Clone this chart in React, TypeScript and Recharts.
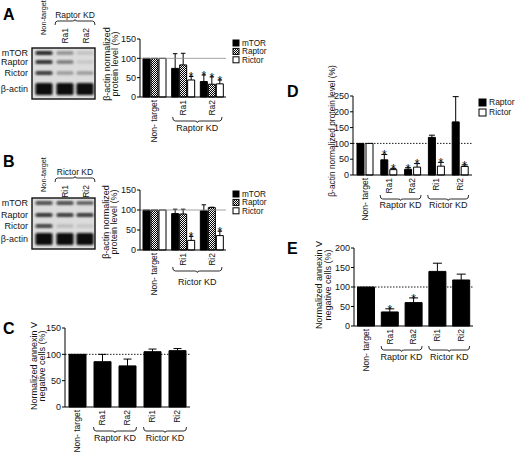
import React from "react";
import { BarChart, Bar, XAxis, YAxis, ReferenceLine, LabelList } from "recharts";

const FONT = "'Liberation Sans', Arial, Helvetica, sans-serif";
const INK = "#141414";

// ---- A: Raptor knockdown, beta-actin normalized protein level (%) ----
const aCategories = ["Non- target", "Ra1", "Ra2"];
const aMtor = [100, 74, 40];
const aMtorErr = [0, 38, 17];
const aRaptor = [100, 83, 33];
const aRaptorErr = [0, 30, 19];
const aRictor = [100, 44, 34];
const aRictorErr = [0, 9, 10];
const aMtorStar = [false, false, true];
const aRaptorStar = [false, false, true];
const aRictorStar = [false, true, true];

// ---- B: Rictor knockdown ----
const bCategories = ["Non- target", "Ri1", "Ri2"];
const bMtor = [100, 91, 98];
const bMtorErr = [0, 11, 15];
const bRaptor = [100, 90, 106];
const bRaptorErr = [0, 12, 1];
const bRictor = [100, 24, 36];
const bRictorErr = [0, 10, 11];
const bRictorStar = [false, true, true];

// ---- C, D, E share the five conditions ----
const cdeCategories = ["Non- target", "Ra1", "Ra2", "Ri1", "Ri2"];

const cAnnexin = [100, 86, 78, 105, 107];
const cAnnexinErr = [0, 14, 13, 5, 4];

const dRaptor = [100, 48, 18, 119, 168];
const dRaptorErr = [0, 17, 5, 7, 80];
const dRictor = [100, 17, 25, 28, 27];
const dRictorErr = [0, 4, 11, 12, 5];
const dRaptorStar = [false, true, true, false, false];
const dRictorStar = [false, true, true, true, true];

const eAnnexin = [100, 36, 60, 140, 118];
const eAnnexinErr = [0, 8, 12, 21, 15];
const eAnnexinStar = [false, true, true, false, false];

const abTicks = [0, 50, 100, 150];
const dTicks = [0, 50, 100, 150, 200, 250];
const eTicks = [0, 50, 100, 150, 200];

const aGroups = [{ label: "Raptor KD", from: 1, to: 2 }];
const bGroups = [{ label: "Rictor KD", from: 1, to: 2 }];
const cdeGroups = [
  { label: "Raptor KD", from: 1, to: 2 },
  { label: "Rictor KD", from: 3, to: 4 },
];

const proteinTitle = ["β-actin normalized", "protein level (%)"];
const annexinTitle = ["Normalized annexin V", "negative cells (%)"];
const dTitle = ["β-actin normalized protein level (%)"];

// western blot band intensities per lane (Non-target, KD1, KD2)
const blotRows = ["mTOR", "Raptor", "Rictor", "β-actin"];
const blotA = [
  [0.95, 0.35, 0.12],
  [0.9, 0.45, 0.1],
  [0.85, 0.3, 0.3],
  [1, 1, 1],
];
const blotB = [
  [0.75, 0.75, 0.6],
  [0.88, 0.85, 0.85],
  [0.8, 0.15, 0.1],
  [1, 1, 1],
];

type Series = { key: string; values: number[]; errs: number[]; stars?: boolean[]; fill: string };
type Group = { label: string; from: number; to: number };

function bracePath(x0: number, x1: number, y0: number, d: number) {
  const m = (x0 + x1) / 2;
  const r = 2.5;
  const n = d > 0 ? 1.5 : -1.5;
  return `M${x0},${y0} Q${x0},${y0 + d} ${x0 + r},${y0 + d} L${m - r},${y0 + d} Q${m},${y0 + d} ${m},${y0 + d + n} Q${m},${y0 + d} ${m + r},${y0 + d} L${x1 - r},${y0 + d} Q${x1},${y0 + d} ${x1},${y0}`;
}

const Star = (p: any) => {
  const vb = p.viewBox || p;
  if (!p.value) return null;
  return (
    <text x={vb.x + vb.width / 2} y={vb.y + 4.8} textAnchor="middle" fontSize={12} fill="#000">
      *
    </text>
  );
};

function Panel(props: {
  left: number;
  top: number;
  width: number;
  height: number;
  marginTop: number;
  yWidth: number;
  plotH: number;
  categories: string[];
  series: Series[];
  yMax: number;
  yTicks: number[];
  dotted: boolean;
  catGap: number;
  barGap: number;
  capW: number;
  groups: Group[];
  braceY: number;
  groupY: number;
}) {
  const p = props;
  const marginRight = 2;
  const band = (p.width - p.yWidth - marginRight) / p.categories.length;
  const xAxisH = p.height - p.marginTop - p.plotH;

  const data = p.categories.map((name, i) => {
    const row: any = { name };
    p.series.forEach((s) => {
      row[s.key] = s.values[i];
      row[s.key + "Err"] = s.errs[i];
      row[s.key + "Star"] = s.stars && s.stars[i] ? "*" : "";
    });
    return row;
  });

  const Tick = (t: any) => {
    const { x, y, payload } = t;
    const idx = p.categories.indexOf(payload.value);
    const g = p.groups.find((gr) => gr.from === idx);
    let extra = null;
    if (g) {
      const ext = band * 0.36;
      const x0 = -ext;
      const x1 = (g.to - g.from) * band + ext;
      extra = (
        <g>
          <path d={bracePath(x0, x1, p.braceY, 4)} fill="none" stroke={INK} strokeWidth={0.9} />
          <text x={(x0 + x1) / 2} y={p.groupY} textAnchor="middle" fontSize={9} fill={INK}>
            {g.label}
          </text>
        </g>
      );
    }
    return (
      <g transform={`translate(${x},${y})`}>
        <text transform="rotate(-90)" x={-3} y={0} dy="0.34em" textAnchor="end" fontSize={8.5} fill={INK}>
          {payload.value}
        </text>
        {extra}
      </g>
    );
  };

  const whisker = (s: any) => {
    const { x, y, width, height } = s;
    if (!height || height <= 0) return <g />;
    const cx = x + width / 2;
    return (
      <g stroke="#000" strokeWidth={1}>
        <line x1={cx} x2={cx} y1={y} y2={y + height} />
        <line x1={cx - p.capW / 2} x2={cx + p.capW / 2} y1={y} y2={y} />
      </g>
    );
  };

  return (
    <div style={{ position: "absolute", left: p.left, top: p.top }}>
      <BarChart
        width={p.width}
        height={p.height}
        data={data}
        margin={{ top: p.marginTop, right: marginRight, bottom: 0, left: 0 }}
        barCategoryGap={p.catGap}
        barGap={p.barGap}
      >
        <XAxis
          dataKey="name"
          interval={0}
          height={xAxisH}
          tickLine={false}
          tickSize={0}
          tickMargin={0}
          axisLine={{ stroke: "#000", strokeWidth: 1 }}
          tick={<Tick />}
        />
        <YAxis
          width={p.yWidth}
          domain={[0, p.yMax]}
          ticks={p.yTicks}
          tickSize={3}
          tickMargin={1}
          axisLine={{ stroke: "#000", strokeWidth: 1 }}
          tickLine={{ stroke: "#000" }}
          tick={{ fontSize: 9, fill: INK }}
        />
        <ReferenceLine
          y={100}
          stroke={p.dotted ? "#000" : "#8a8a8a"}
          strokeWidth={p.dotted ? 0.9 : 0.8}
          strokeDasharray={p.dotted ? "1.5 1.5" : undefined}
        />
        {p.series.flatMap((s) => [
          <Bar
            key={s.key}
            dataKey={s.key}
            stackId={s.key}
            fill={s.fill}
            stroke="#000"
            strokeWidth={1}
            isAnimationActive={false}
          />,
          <Bar key={s.key + "e"} dataKey={s.key + "Err"} stackId={s.key} shape={whisker} isAnimationActive={false}>
            <LabelList dataKey={s.key + "Star"} content={Star} />
          </Bar>,
        ])}
      </BarChart>
    </div>
  );
}

function AxisTitle({ lines, xs, cy, size }: { lines: string[]; xs: number[]; cy: number; size: number }) {
  return (
    <g>
      {lines.map((t, i) => (
        <text
          key={i}
          transform={`translate(${xs[i]},${cy}) rotate(-90)`}
          textAnchor="middle"
          dy="0.34em"
          fontSize={size}
          fill={INK}
        >
          {t}
        </text>
      ))}
    </g>
  );
}

function Blot({ x, y, w, h, bandYs, values }: { x: number; y: number; w: number; h: number; bandYs: number[]; values: number[][] }) {
  const lanes = [44, 65, 85];
  const laneW = 17;
  return (
    <g>
      <clipPath id={`clip${y}`}>
        <rect x={x} y={y} width={w} height={h} />
      </clipPath>
      <rect x={x} y={y} width={w} height={h} fill="#dcdcdc" />
      <g clipPath={`url(#clip${y})`}>
        <g filter="url(#blur)">
          {values.map((row, r) =>
            row.map((v, l) => {
              const bh = r === 3 ? 12 : 3.6;
              return (
                <rect
                  key={r + "-" + l}
                  x={lanes[l] - laneW / 2}
                  y={bandYs[r] - bh / 2}
                  width={laneW}
                  height={bh}
                  rx={1.5}
                  fill={`rgba(10,10,10,${v})`}
                />
              );
            })
          )}
        </g>
      </g>
      <rect x={x} y={y} width={w} height={h} fill="none" stroke="#111" strokeWidth={1.4} />
      {blotRows.map((name, r) => (
        <text key={name} x={28} y={bandYs[r]} dy="0.34em" textAnchor="end" fontSize={9} fill={INK}>
          {name}
        </text>
      ))}
    </g>
  );
}

function BlotHeader({ top, group, lanes }: { top: number; group: string; lanes: string[] }) {
  const laneXs = [43, 65, 86];
  return (
    <g fontSize={8.5} fill={INK}>
      <text transform={`translate(${laneXs[0]},${top + 35}) rotate(-90)`} dy="0.34em" textAnchor="start" fontSize={7.4}>
        Non-target
      </text>
      <text x={75} y={top + 18} textAnchor="middle">
        {group}
      </text>
      <path d={bracePath(55, 95, top + 25, -4)} fill="none" stroke={INK} strokeWidth={0.9} />
      {lanes.map((l, i) => (
        <text key={l} transform={`translate(${laneXs[i + 1]},${top + 28}) rotate(-90)`} dy="0.34em" textAnchor="end">
          {l}
        </text>
      ))}
    </g>
  );
}

function LegendBox({ x, y, size, gap, font, items }: { x: number; y: number; size: number; gap: number; font: number; items: Series[] }) {
  return (
    <g>
      {items.map((s, i) => (
        <g key={s.key}>
          <rect x={x} y={y + i * gap} width={size} height={size} fill={s.fill} stroke="#000" strokeWidth={1} />
          <text x={x + size + 3} y={y + i * gap + size / 2} dy="0.34em" fontSize={font} fill={INK}>
            {s.key}
          </text>
        </g>
      ))}
    </g>
  );
}

const aSeries: Series[] = [
  { key: "mTOR", values: aMtor, errs: aMtorErr, stars: aMtorStar, fill: "#000" },
  { key: "Raptor", values: aRaptor, errs: aRaptorErr, stars: aRaptorStar, fill: "url(#hatch)" },
  { key: "Rictor", values: aRictor, errs: aRictorErr, stars: aRictorStar, fill: "#fff" },
];
const bSeries: Series[] = [
  { key: "mTOR", values: bMtor, errs: bMtorErr, fill: "#000" },
  { key: "Raptor", values: bRaptor, errs: bRaptorErr, fill: "url(#hatch)" },
  { key: "Rictor", values: bRictor, errs: bRictorErr, stars: bRictorStar, fill: "#fff" },
];
const cSeries: Series[] = [{ key: "Annexin", values: cAnnexin, errs: cAnnexinErr, fill: "#000" }];
const dSeries: Series[] = [
  { key: "Raptor", values: dRaptor, errs: dRaptorErr, stars: dRaptorStar, fill: "#000" },
  { key: "Rictor", values: dRictor, errs: dRictorErr, stars: dRictorStar, fill: "#fff" },
];
const eSeries: Series[] = [{ key: "Annexin", values: eAnnexin, errs: eAnnexinErr, stars: eAnnexinStar, fill: "#000" }];

export default function App() {
  return (
    <div
      style={{
        position: "absolute",
        left: 0,
        top: 0,
        width: 520,
        height: 456,
        background: "#fff",
        fontFamily: FONT,
        overflow: "hidden",
      }}
    >
      <svg width={520} height={456} style={{ position: "absolute", left: 0, top: 0 }}>
        <defs>
          <pattern id="hatch" width={2} height={2} patternUnits="userSpaceOnUse">
            <rect width={2} height={2} fill="#fff" />
            <rect width={1} height={1} fill="#000" />
            <rect x={1} y={1} width={1} height={1} fill="#000" />
          </pattern>
          <filter id="blur" x="-20%" y="-50%" width="140%" height="200%">
            <feGaussianBlur stdDeviation={0.9} />
          </filter>
        </defs>
        <g fontWeight="bold" fontSize={16} fill="#000">
          <text x={3} y={20}>A</text>
          <text x={3} y={167}>B</text>
          <text x={3} y={334}>C</text>
          <text x={287} y={97}>D</text>
          <text x={287} y={254}>E</text>
        </g>
        <BlotHeader top={0} group="Raptor KD" lanes={["Ra1", "Ra2"]} />
        <Blot x={32} y={48} w={63} h={51} bandYs={[53, 62, 73, 89]} values={blotA} />
        <BlotHeader top={157} group="Rictor KD" lanes={["Ri1", "Ri2"]} />
        <Blot x={32} y={198} w={63} h={51} bandYs={[203, 215, 226, 239]} values={blotB} />
        <LegendBox x={233} y={40} size={6} gap={8.4} font={8.2} items={aSeries} />
        <LegendBox x={233} y={191} size={6} gap={8.4} font={8.2} items={bSeries} />
        <LegendBox x={479} y={99} size={7} gap={10} font={8.5} items={dSeries} />
        <AxisTitle lines={proteinTitle} xs={[107, 115]} cy={64} size={9} />
        <AxisTitle lines={proteinTitle} xs={[106, 114]} cy={222} size={9} />
        <AxisTitle lines={annexinTitle} xs={[34, 42]} cy={366} size={9} />
        <AxisTitle lines={dTitle} xs={[332]} cy={131} size={8.4} />
        <AxisTitle lines={annexinTitle} xs={[319, 328]} cy={285} size={9} />
      </svg>

      <Panel
        left={95} top={28} width={133} height={120} marginTop={11} yWidth={45} plotH={58}
        categories={aCategories} series={aSeries} yMax={150} yTicks={abTicks} dotted={false}
        catGap={3} barGap={1} capW={4.5} groups={aGroups} braceY={20} groupY={34}
      />
      <Panel
        left={95} top={180} width={133} height={120} marginTop={10} yWidth={45} plotH={60}
        categories={bCategories} series={bSeries} yMax={150} yTicks={abTicks} dotted={false}
        catGap={3} barGap={1} capW={4.5} groups={bGroups} braceY={17} groupY={35}
      />
      <Panel
        left={20} top={318} width={172} height={137} marginTop={10} yWidth={45} plotH={79}
        categories={cdeCategories} series={cSeries} yMax={150} yTicks={abTicks} dotted={true}
        catGap={4} barGap={1} capW={8} groups={cdeGroups} braceY={20} groupY={34}
      />
      <Panel
        left={315} top={86} width={159} height={140} marginTop={10} yWidth={38} plotH={79}
        categories={cdeCategories} series={dSeries} yMax={250} yTicks={dTicks} dotted={true}
        catGap={4} barGap={2} capW={6} groups={cdeGroups} braceY={20} groupY={33}
      />
      <Panel
        left={315} top={238} width={160} height={140} marginTop={10} yWidth={39} plotH={78}
        categories={cdeCategories} series={eSeries} yMax={200} yTicks={eTicks} dotted={true}
        catGap={3.5} barGap={1} capW={9} groups={cdeGroups} braceY={20} groupY={34}
      />
    </div>
  );
}
